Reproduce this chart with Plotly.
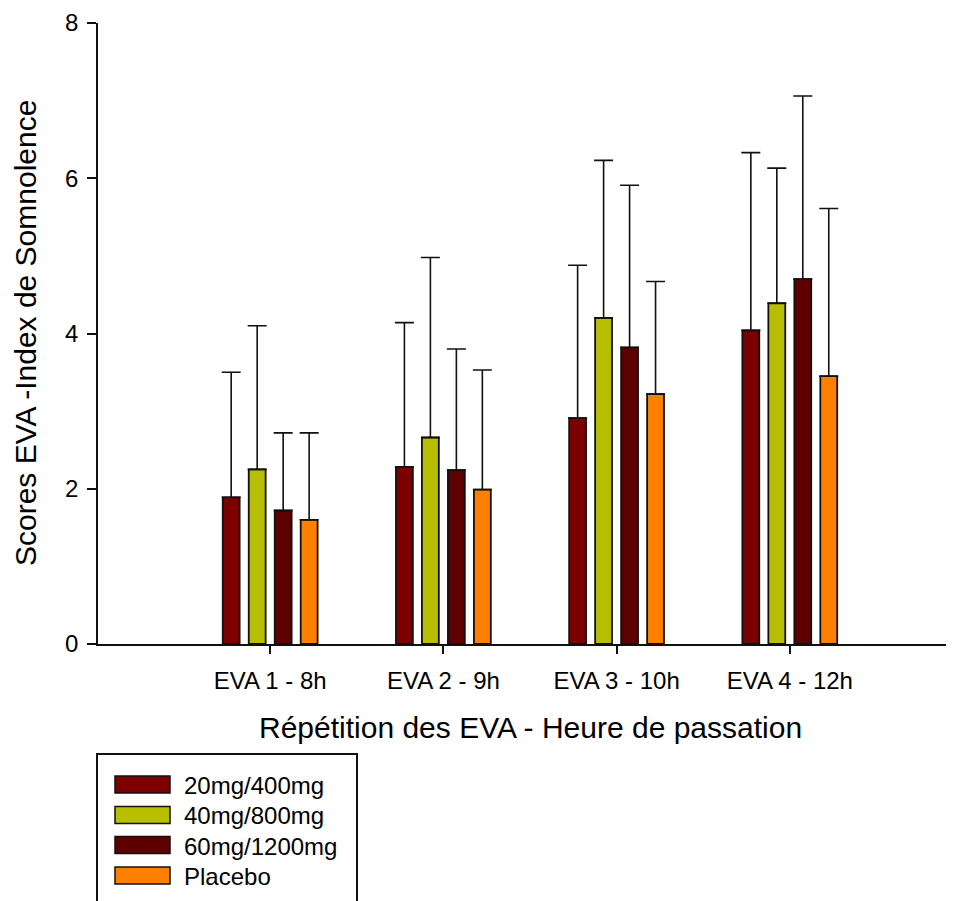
import plotly.graph_objects as go

categories = ["EVA 1 - 8h", "EVA 2 - 9h", "EVA 3 - 10h", "EVA 4 - 12h"]
series_names = ["20mg/400mg", "40mg/800mg", "60mg/1200mg", "Placebo"]
mean_20 = [1.89, 2.28, 2.91, 4.04]
mean_40 = [2.25, 2.66, 4.20, 4.39]
mean_60 = [1.72, 2.24, 3.82, 4.70]
mean_pl = [1.60, 1.99, 3.22, 3.45]
sd_20 = [1.61, 1.86, 1.97, 2.29]
sd_40 = [1.85, 2.32, 2.03, 1.74]
sd_60 = [1.00, 1.56, 2.09, 2.36]
sd_pl = [1.12, 1.54, 1.45, 2.16]
colors = ["#7d0000", "#b8bf00", "#5e0000", "#ff8000"]
y_ticks = [0, 2, 4, 6, 8]

means = [mean_20, mean_40, mean_60, mean_pl]
sds = [sd_20, sd_40, sd_60, sd_pl]

FONT = "Liberation Sans, Arial, sans-serif"
OFF = 8  # browser body margin
W, H = 954 - OFF, 901 - OFF
ML, MR, MT = 98 - OFF, 0, 23 - OFF
PH = 621
MB = H - MT - PH
PW = W - ML - MR


def px_x(px):
    # px in page coordinates
    return (px - OFF - ML) / PW


def px_y(py):
    return (MT + PH - (py - OFF)) / PH


fig = go.Figure()
for name, m, s, c in zip(series_names, means, sds, colors):
    fig.add_trace(go.Bar(
        x=categories, y=m, name=name,
        marker=dict(color=c, line=dict(color="#111111", width=1.8)),
        error_y=dict(type="data", symmetric=False, array=s,
                     arrayminus=[0] * len(s), color="#111111",
                     thickness=1.6, width=9.5),
        showlegend=False,
    ))

shapes = []
annotations = []
# legend box
shapes.append(dict(type="rect", xref="paper", yref="paper",
                   x0=px_x(97), x1=px_x(357), y0=px_y(912), y1=px_y(754),
                   line=dict(color="#111111", width=2), fillcolor="rgba(0,0,0,0)"))
row_y = [784.5, 815, 845, 875.5]
for name, c, ry in zip(series_names, colors, row_y):
    shapes.append(dict(type="rect", xref="paper", yref="paper",
                       x0=px_x(115), x1=px_x(170), y0=px_y(ry + 8.5), y1=px_y(ry - 8.5),
                       line=dict(color="#111111", width=1.5), fillcolor=c))
    annotations.append(dict(xref="paper", yref="paper", x=px_x(182), y=px_y(ry + 1),
                            text=name, showarrow=False, xanchor="left", yanchor="middle",
                            font=dict(family=FONT, size=24, color="#000000")))

annotations.append(dict(xref="paper", yref="paper", x=px_x(530), y=px_y(727),
                        text="Répétition des EVA - Heure de passation", showarrow=False,
                        xanchor="center", yanchor="middle",
                        font=dict(family=FONT, size=30, color="#000000")))
annotations.append(dict(xref="paper", yref="paper", x=px_x(25), y=px_y(333),
                        text="Scores EVA -Index de Somnolence", showarrow=False,
                        textangle=-90, xanchor="center", yanchor="middle",
                        font=dict(family=FONT, size=30, color="#000000")))

fig.update_layout(
    width=W, height=H,
    margin=dict(l=ML, r=MR, t=MT, b=MB, pad=0),
    paper_bgcolor="white", plot_bgcolor="white",
    barmode="group", bargap=0.4, bargroupgap=0.35,
    font=dict(family=FONT, size=24, color="#000000"),
    shapes=shapes, annotations=annotations,
    xaxis=dict(type="category", range=[-0.994, 3.948], showline=True,
               linecolor="#111111", linewidth=1.8, ticks="outside", ticklen=8,
               tickwidth=1.5, tickcolor="#111111", showgrid=False, zeroline=False,
               ticklabelstandoff=6, tickfont=dict(family=FONT, size=24)),
    yaxis=dict(range=[0, 8], tickvals=y_ticks, showline=True, linecolor="#111111",
               linewidth=1.8, ticks="outside", ticklen=9, tickwidth=1.5,
               tickcolor="#111111", showgrid=False, zeroline=False,
               ticklabelstandoff=4, tickfont=dict(family=FONT, size=24)),
)

fig.write_html("out.html")
